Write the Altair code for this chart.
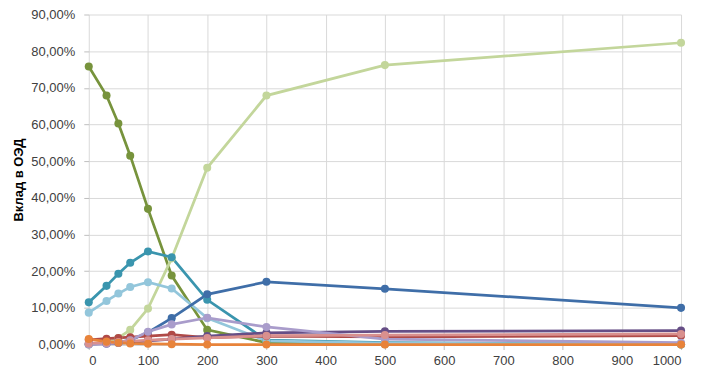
import altair as alt
import pandas as pd

x_vals = [0, 30, 50, 70, 100, 140, 200, 300, 500, 1000]

series_names = ["s1", "s2", "s3", "s4", "s5", "s6", "s7", "s8", "s9", "s10"]
series_colors = ["#77933C", "#C3D69B", "#3A95AE", "#93C6DB", "#3F6EA8",
                 "#B04A47", "#664E86", "#A99CCB", "#D9908E", "#E8833A"]

s1 = [75.8, 67.9, 60.3, 51.5, 37.0, 18.8, 4.0, 0.5, 0.1, 0.0]
s2 = [0.0, 0.5, 1.8, 4.0, 9.8, 23.5, 48.2, 67.9, 76.2, 82.3]
s3 = [11.5, 16.0, 19.3, 22.3, 25.4, 23.8, 12.2, 1.2, 0.5, 0.1]
s4 = [8.7, 11.9, 13.9, 15.7, 17.0, 15.3, 7.2, 1.0, 0.4, 0.1]
s5 = [0.1, 0.3, 0.6, 1.2, 3.3, 7.2, 13.7, 17.1, 15.2, 10.0]
s6 = [1.3, 1.6, 1.8, 2.0, 2.3, 2.7, 1.9, 2.3, 2.1, 2.4]
s7 = [0.2, 0.3, 0.4, 0.6, 1.0, 1.5, 2.3, 3.2, 3.6, 3.8]
s8 = [0.0, 0.2, 0.5, 1.2, 3.5, 5.5, 7.3, 4.8, 1.5, 0.5]
s9 = [0.3, 0.5, 0.7, 0.9, 1.2, 1.5, 1.8, 2.4, 2.6, 2.9]
s10 = [1.5, 0.8, 0.5, 0.3, 0.2, 0.1, 0.0, 0.0, 0.0, 0.0]

all_series = [s1, s2, s3, s4, s5, s6, s7, s8, s9, s10]

rows = []
for name, vals in zip(series_names, all_series):
    for xv, yv in zip(x_vals, vals):
        rows.append({"x": xv, "y": yv, "series": name})
df = pd.DataFrame(rows)

font = "Liberation Sans"

chart = alt.Chart(df).mark_line(
    strokeWidth=2.75,
    point=alt.OverlayMarkDef(filled=True, size=65, opacity=1),
).encode(
    x=alt.X("x:Q", scale=alt.Scale(domain=[0, 1000], nice=False),
            axis=alt.Axis(values=list(range(0, 1001, 100)), title=None,
                          labelExpr="format(datum.value, 'd')",
                          labelFont=font, labelFontSize=13, labelColor="#404040",
                          grid=True, gridColor="#D9D9D9", domainColor="#BFBFBF",
                          tickColor="#BFBFBF", tickSize=5, labelPadding=5)),
    y=alt.Y("y:Q", scale=alt.Scale(domain=[0, 90], nice=False),
            axis=alt.Axis(values=list(range(0, 91, 10)), title="Вклад в ОЭД",
                          labelExpr="replace(format(datum.value, '.2f'), '.', ',') + '%'",
                          labelFont=font, labelFontSize=13, labelColor="#404040",
                          titleFont=font, titleFontSize=13, titleFontWeight="bold",
                          titleColor="#000000", titlePadding=5,
                          grid=True, gridColor="#D9D9D9", domain=False,
                          tickColor="#BFBFBF", tickSize=5, labelPadding=9)),
    color=alt.Color("series:N", scale=alt.Scale(domain=series_names, range=series_colors),
                    legend=None),
).properties(
    width=594,
    height=331,
    autosize=alt.AutoSizeParams(type="none"),
    padding={"left": 81, "top": 6, "right": 14, "bottom": 24},
).configure_view(stroke=None)

chart.save("out.html", embed_options={"renderer": "svg", "actions": False})
